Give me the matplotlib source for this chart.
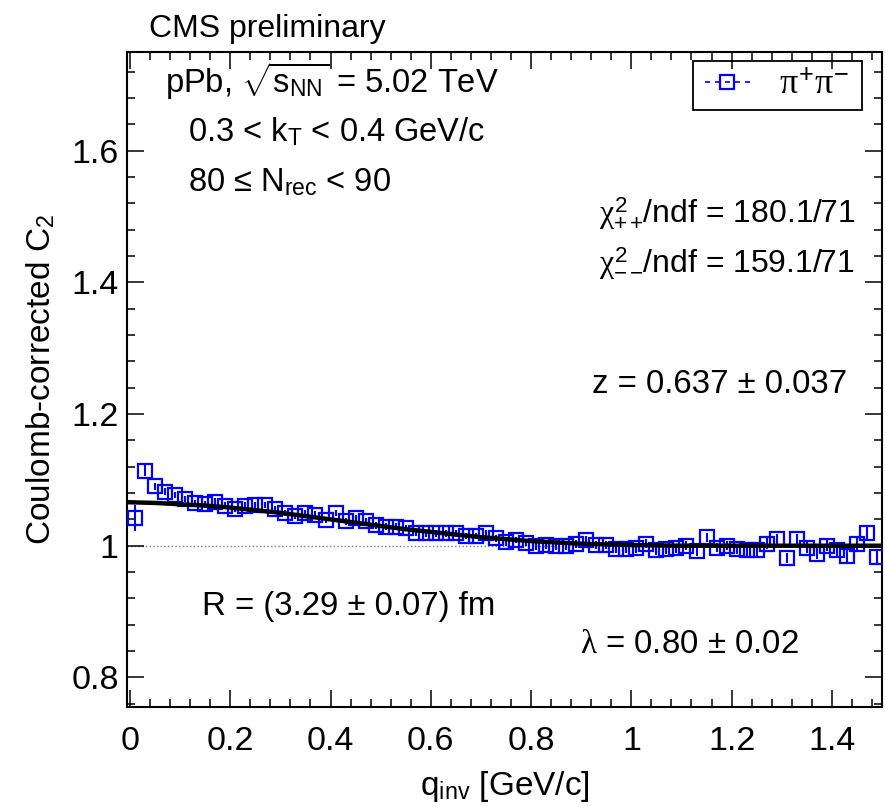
import matplotlib
matplotlib.use('Agg')
import matplotlib.pyplot as plt
from matplotlib.lines import Line2D
from matplotlib.patches import Rectangle
from matplotlib.ticker import MultipleLocator

plt.rcParams['font.family'] = ['Liberation Sans', 'DejaVu Sans']
plt.rcParams['mathtext.fontset'] = 'custom'
plt.rcParams['mathtext.rm'] = 'Liberation Sans'
plt.rcParams['mathtext.it'] = 'Liberation Serif'
plt.rcParams['mathtext.bf'] = 'Liberation Sans:bold'

# q_inv bin centres [GeV/c]
q = [0.01, 0.03, 0.05, 0.07, 0.09, 0.11, 0.13, 0.15, 0.17, 0.19,
     0.21, 0.23, 0.25, 0.27, 0.29, 0.31, 0.33, 0.35, 0.37, 0.39,
     0.41, 0.43, 0.45, 0.47, 0.49, 0.51, 0.53, 0.55, 0.57, 0.59,
     0.61, 0.63, 0.65, 0.67, 0.69, 0.71, 0.73, 0.75, 0.77, 0.79,
     0.81, 0.83, 0.85, 0.87, 0.89, 0.91, 0.93, 0.95, 0.97, 0.99,
     1.01, 1.03, 1.05, 1.07, 1.09, 1.11, 1.13, 1.15, 1.17, 1.19,
     1.21, 1.23, 1.25, 1.27, 1.29, 1.31, 1.33, 1.35, 1.37, 1.39,
     1.41, 1.43, 1.45, 1.47, 1.49]

# Coulomb-corrected C2 for pi+ pi-
c2 = [1.042, 1.114, 1.090, 1.082, 1.077, 1.071, 1.065, 1.063, 1.067, 1.061,
      1.056, 1.061, 1.062, 1.062, 1.056, 1.050, 1.045, 1.050, 1.047, 1.039,
      1.050, 1.037, 1.042, 1.037, 1.031, 1.029, 1.029, 1.027, 1.020, 1.019,
      1.019, 1.019, 1.019, 1.015, 1.015, 1.019, 1.011, 1.005, 1.009, 1.004,
      0.999, 1.001, 0.999, 0.999, 1.003, 1.009, 1.001, 1.001, 0.995, 0.995,
      0.996, 1.003, 0.993, 0.995, 0.996, 1.000, 0.992, 1.013, 0.997, 1.000,
      0.995, 0.993, 0.993, 1.003, 1.010, 0.981, 1.010, 0.997, 0.988, 1.000,
      0.993, 0.985, 1.003, 1.020, 0.983]

c2_err = [0.020, 0.008, 0.006, 0.005, 0.005, 0.005, 0.005, 0.005, 0.005, 0.005,
          0.005, 0.005, 0.005, 0.005, 0.005, 0.005, 0.005, 0.005, 0.005, 0.005,
          0.005, 0.005, 0.005, 0.005, 0.005, 0.005, 0.005, 0.005, 0.005, 0.005,
          0.005, 0.005, 0.005, 0.005, 0.005, 0.005, 0.005, 0.005, 0.005, 0.005,
          0.006, 0.006, 0.006, 0.006, 0.006, 0.006, 0.006, 0.006, 0.006, 0.006,
          0.007, 0.007, 0.007, 0.007, 0.007, 0.007, 0.007, 0.007, 0.007, 0.007,
          0.008, 0.008, 0.008, 0.008, 0.008, 0.008, 0.008, 0.008, 0.008, 0.008,
          0.009, 0.009, 0.009, 0.010, 0.010]

# fit curve
fit_q = [0.0, 0.05, 0.1, 0.15, 0.2, 0.25, 0.3, 0.35, 0.4, 0.45, 0.5, 0.55,
         0.6, 0.65, 0.7, 0.75, 0.8, 0.85, 0.9, 0.95, 1.0, 1.1, 1.2, 1.3, 1.5]
fit_c2 = [1.066, 1.065, 1.063, 1.061, 1.058, 1.054, 1.050, 1.045, 1.040, 1.035,
          1.030, 1.025, 1.021, 1.017, 1.013, 1.010, 1.007, 1.005, 1.003, 1.002,
          1.001, 1.000, 1.000, 1.000, 1.000]

fig = plt.figure(figsize=(8.85, 8.07), dpi=100)
ax = fig.add_axes([127/885, 1 - 707/807, 755/885, 655/807])

ax.axhline(1.0, color='gray', ls=':', lw=1.0, zorder=1)
ax.errorbar(q, c2, yerr=c2_err, fmt='s', color='blue', mfc='none', mec='blue',
            ms=10, mew=1.6, elinewidth=1.5, capsize=0, zorder=3)
ax.plot(fit_q, fit_c2, color='black', lw=3.2, zorder=4)

ax.set_xlim(-0.006, 1.5)
ax.set_ylim(0.755, 1.75)
ax.xaxis.set_minor_locator(MultipleLocator(0.04))
ax.yaxis.set_minor_locator(MultipleLocator(0.04))
ax.set_xticks([0, 0.2, 0.4, 0.6, 0.8, 1.0, 1.2, 1.4])
ax.set_xticklabels(['0', '0.2', '0.4', '0.6', '0.8', '1', '1.2', '1.4'])
ax.set_yticks([0.8, 1.0, 1.2, 1.4, 1.6])
ax.set_yticklabels(['0.8', '1', '1.2', '1.4', '1.6'])
ax.tick_params(which='both', direction='in', top=True, right=True, labelsize=24.5, width=1.1)
ax.tick_params(which='major', length=12)
ax.tick_params(axis='x', which='major', pad=14)
ax.tick_params(axis='y', which='major', pad=6)
ax.tick_params(which='minor', length=5.5)
for s in ax.spines.values():
    s.set_linewidth(1.5)

ax.set_xlabel(r'q$_{\mathrm{inv}}$ [GeV/c]', fontsize=24, labelpad=8)
ax.set_ylabel(r'Coulomb-corrected C$_{2}$', fontsize=24, labelpad=10)

fig.text(149/885, 1 - 37/807, 'CMS preliminary', fontsize=23, ha='left', va='baseline')

ax.text(0.050, 0.937, r'pPb, $\sqrt{\mathrm{s}_{\mathrm{NN}}}$ = 5.02 TeV', transform=ax.transAxes,
        fontsize=23.5, va='baseline')
ax.text(0.081, 0.864, r'0.3 < k$_{\mathrm{T}}$ < 0.4 GeV/c', transform=ax.transAxes,
        fontsize=23.5, va='baseline')
ax.text(0.081, 0.787, r'80 ≤ N$_{\mathrm{rec}}$ < 90', transform=ax.transAxes,
        fontsize=23.5, va='baseline')

ax.text(0.964, 0.739, r'$\chi^{2}_{++}\!$/ndf = 180.1/71', transform=ax.transAxes,
        fontsize=23, ha='right', va='baseline')
ax.text(0.964, 0.662, r'$\chi^{2}_{--}\!$/ndf = 159.1/71', transform=ax.transAxes,
        fontsize=23, ha='right', va='baseline')
ax.text(0.616, 0.479, r'z = 0.637 ± 0.037', transform=ax.transAxes,
        fontsize=23.8, va='baseline')
ax.text(0.100, 0.140, r'R = (3.29 ± 0.07) fm', transform=ax.transAxes,
        fontsize=23.8, va='baseline')
ax.text(0.600, 0.083, r'$\lambda$ = 0.80 ± 0.02', transform=ax.transAxes,
        fontsize=23.8, va='baseline')

# legend box drawn by hand to get the ROOT-like proportions
fig.patches.append(Rectangle((693/885, 1 - 110/807), 169/885, 49/807,
                             transform=fig.transFigure, fill=False,
                             ec='black', lw=1.3, zorder=5))
handle = Line2D([], [], color='blue', ls=(0, (3, 3)), lw=1.2, marker='s', mfc='none',
                mec='blue', ms=10, mew=1.6)
leg = ax.legend([handle], [r'$\pi^{+}\pi^{-}$'], loc='center',
                bbox_to_anchor=(777/885, 1 - 85/807), bbox_transform=fig.transFigure,
                fontsize=26, frameon=False, handlelength=1.25,
                borderpad=0.0, handletextpad=0.8, borderaxespad=0)

fig.savefig('out.png', dpi=100)
